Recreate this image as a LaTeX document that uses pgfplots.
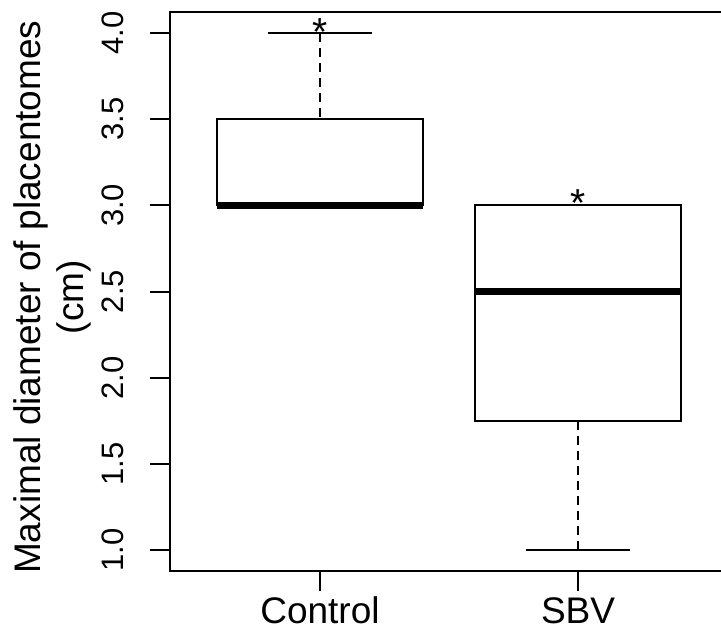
\documentclass[border=0pt]{standalone}
\usepackage{pgfplots}
\pgfplotsset{compat=1.18}
\usepgfplotslibrary{statistics}
\usepackage{fontspec}
\setmainfont{Liberation Sans}

% whisker: dashed stem, solid cap (R style)
\tikzset{
  rwhisker/.style={black, line width=1pt, dash pattern=on 4.5pt off 3pt},
  rcap/.style={black, line width=1pt, solid},
}

\begin{document}
\begin{tikzpicture}
\begin{axis}[
  scale only axis,
  width=278.6pt, height=279.2pt,
  xmin=0.42, xmax=2.58, ymin=0.88, ymax=4.12,
  axis line style={line width=1pt},
  xtick={1,2}, xticklabels={Control,SBV},
  ytick={1,1.5,2,2.5,3,3.5,4},
  tick pos=left,
  tick align=outside,
  major tick length=10pt,
  every tick/.style={black, line width=1pt},
  xticklabel style={anchor=base, yshift=-16.5pt, font=\fontsize{18.5}{22}\selectfont},
  yticklabel style={xshift=-13.5pt, rotate=90, anchor=base, font=\fontsize{15.5}{18}\selectfont,
    /pgf/number format/fixed, /pgf/number format/fixed zerofill,
    /pgf/number format/precision=1},
  /pgf/number format/assume math mode=true,
  ylabel={Maximal diameter of placentomes\\(cm)},
  ylabel style={align=center, at={(axis description cs:-0.282,0.49)},
    anchor=north, inner sep=0pt, font=\fontsize{18.5}{21.5}\selectfont},
  boxplot/draw direction=y,
  boxplot/box extend=0.8,
  boxplot/whisker extend=0.4,
  boxplot/every median/.style={line width=3.2pt},
  boxplot/draw/lower whisker/.code={
    \draw[rwhisker] (boxplot box cs:\pgfplotsboxplotvalue{lower whisker},0.5)
      -- (boxplot box cs:\pgfplotsboxplotvalue{lower quartile},0.5);
    \draw[rcap] (boxplot whisker cs:\pgfplotsboxplotvalue{lower whisker},0)
      -- (boxplot whisker cs:\pgfplotsboxplotvalue{lower whisker},1);
  },
  boxplot/draw/upper whisker/.code={
    \draw[rwhisker] (boxplot box cs:\pgfplotsboxplotvalue{upper whisker},0.5)
      -- (boxplot box cs:\pgfplotsboxplotvalue{upper quartile},0.5);
    \draw[rcap] (boxplot whisker cs:\pgfplotsboxplotvalue{upper whisker},0)
      -- (boxplot whisker cs:\pgfplotsboxplotvalue{upper whisker},1);
  },
]
% Control
\addplot[black, line width=1pt, boxplot prepared={draw position=1,
  lower whisker=3.0, lower quartile=3.0, median=3.0,
  upper quartile=3.5, upper whisker=4.0}] coordinates {};
% SBV
\addplot[black, line width=1pt, boxplot prepared={draw position=2,
  lower whisker=1.0, lower quartile=1.75, median=2.5,
  upper quartile=3.0, upper whisker=3.0}] coordinates {};

\node[anchor=base, inner sep=0pt, font=\fontsize{19.5}{20}\selectfont] at (axis cs:1,3.93) {*};
\node[anchor=base, inner sep=0pt, font=\fontsize{19.5}{20}\selectfont] at (axis cs:2,2.935) {*};

\coordinate (bbsw) at (axis cs:-0.240,0.530);
\coordinate (bbne) at (axis cs:2.554,4.1915);
\end{axis}
\pgfresetboundingbox
\useasboundingbox (bbsw) rectangle (bbne);
\end{tikzpicture}
\end{document}
